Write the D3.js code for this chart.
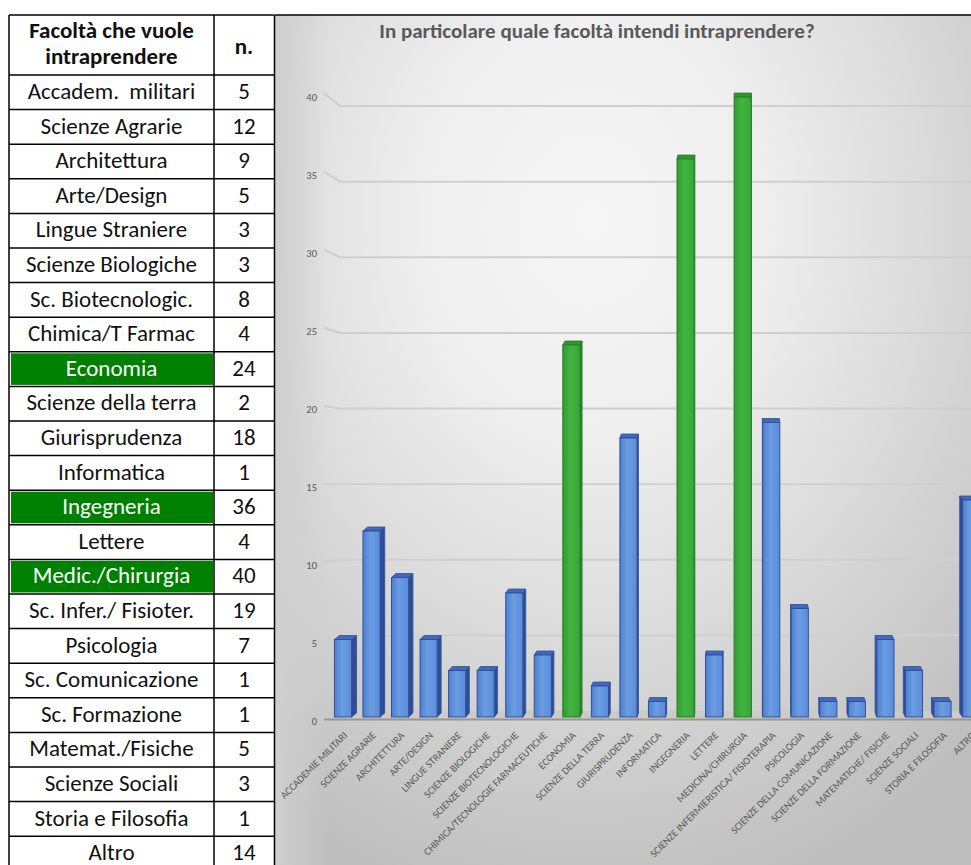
<!DOCTYPE html>
<html>
<head>
<meta charset="utf-8">
<script src="https://cdn.jsdelivr.net/npm/d3@7"></script>
<style>
  html, body { margin: 0; padding: 0; background: #ffffff; }
  svg { display: block; }
  text { font-family: Carlito, Lato, "Noto Sans", sans-serif; white-space: pre; }
</style>
</head>
<body>
<script>
// Survey answers: faculty each student intends to enrol in
const tableNames = ["Accadem.  militari", "Scienze Agrarie", "Architettura", "Arte/Design",
  "Lingue Straniere", "Scienze Biologiche", "Sc. Biotecnologic.", "Chimica/T Farmac",
  "Economia", "Scienze della terra", "Giurisprudenza", "Informatica", "Ingegneria",
  "Lettere", "Medic./Chirurgia", "Sc. Infer./ Fisioter.", "Psicologia",
  "Sc. Comunicazione", "Sc. Formazione", "Matemat./Fisiche", "Scienze Sociali",
  "Storia e Filosofia", "Altro"];
const counts = [5, 12, 9, 5, 3, 3, 8, 4, 24, 2, 18, 1, 36, 4, 40, 19, 7, 1, 1, 5, 3, 1, 14];
const axisCategories = ["ACCADEMIE MILITARI", "SCIENZE AGRARIE", "ARCHITETTURA", "ARTE/DESIGN",
  "LINGUE STRANIERE", "SCIENZE BIOLOGICHE", "SCIENZE BIOTECNOLOGICHE",
  "CHIMICA/TECNOLOGIE FARMACEUTICHE", "ECONOMIA", "SCIENZE DELLA TERRA", "GIURISPRUDENZA",
  "INFORMATICA", "INGEGNERIA", "LETTERE", "MEDICINA/CHIRURGIA",
  "SCIENZE INFERMIERISTICA/ FISIOTERAPIA", "PSICOLOGIA", "SCIENZE DELLA COMUNICAZIONE",
  "SCIENZE DELLA FORMAZIONE", "MATEMATICHE/ FISICHE", "SCIENZE SOCIALI",
  "STORIA E FILOSOFIA", "ALTRO"];
const highlighted = ["ECONOMIA", "INGEGNERIA", "MEDICINA/CHIRURGIA"];
const yTicks = [0, 5, 10, 15, 20, 25, 30, 35, 40];
const tableHeader = ["Facoltà che vuole", "intraprendere", "n."];
const chartTitle = "In particolare quale facoltà intendi intraprendere?";

const W = 971, H = 865;
const svg = d3.select("body").append("svg").attr("width", W).attr("height", H);
const defs = svg.append("defs");

// ---------- table ----------
const tLeft = 9, tDiv = 214, tRight = 274, tTop = 15, headBottom = 75, rowH = 34.6;
const tFont = 23;
const table = svg.append("g");
const rows = table.selectAll("g.row").data(tableNames.map((n, i) => ({ name: n, value: counts[i], hl: highlighted.includes(axisCategories[i]) })))
  .join("g").attr("class", "row")
  .attr("transform", (d, i) => `translate(0,${headBottom + i * rowH})`);
rows.filter(d => d.hl).append("rect")
  .attr("x", tLeft + 2).attr("y", 1.5).attr("width", tDiv - tLeft - 3).attr("height", rowH - 3)
  .attr("fill", "#008000");
rows.append("text").attr("x", (tLeft + tDiv) / 2).attr("y", 24)
  .attr("text-anchor", "middle").attr("font-size", tFont)
  .attr("fill", d => d.hl ? "#ffffff" : "#111111").text(d => d.name);
rows.append("text").attr("x", (tDiv + tRight) / 2).attr("y", 24)
  .attr("text-anchor", "middle").attr("font-size", tFont).attr("fill", "#111111")
  .text(d => d.value);
rows.append("line").attr("x1", tLeft).attr("x2", tRight).attr("y1", rowH).attr("y2", rowH)
  .attr("stroke", "#000").attr("stroke-width", 1.5);

table.append("text").attr("x", (tLeft + tDiv) / 2).attr("y", 38).attr("text-anchor", "middle")
  .attr("font-size", tFont).attr("font-weight", "bold").attr("fill", "#111").text(tableHeader[0]);
table.append("text").attr("x", (tLeft + tDiv) / 2).attr("y", 64).attr("text-anchor", "middle")
  .attr("font-size", tFont).attr("font-weight", "bold").attr("fill", "#111").text(tableHeader[1]);
table.append("text").attr("x", (tDiv + tRight) / 2).attr("y", 54).attr("text-anchor", "middle")
  .attr("font-size", tFont).attr("font-weight", "bold").attr("fill", "#111").text(tableHeader[2]);

const tableBottom = headBottom + tableNames.length * rowH;
table.append("line").attr("x1", tLeft).attr("x2", tRight).attr("y1", tTop).attr("y2", tTop).attr("stroke", "#000").attr("stroke-width", 1.5);
table.append("line").attr("x1", tLeft).attr("x2", tRight).attr("y1", headBottom).attr("y2", headBottom).attr("stroke", "#000").attr("stroke-width", 1.5);
[tLeft, tDiv].forEach(x => table.append("line").attr("x1", x).attr("x2", x).attr("y1", tTop).attr("y2", tableBottom).attr("stroke", "#000").attr("stroke-width", 1.5));

// ---------- chart panel ----------
const cLeft = 274.5;
const bgGrad = defs.append("radialGradient").attr("id", "bg")
  .attr("gradientUnits", "userSpaceOnUse").attr("cx", 590).attr("cy", 220).attr("r", 700)
  .attr("gradientTransform", "translate(590,220) scale(0.8,1) translate(-590,-220)");
[[0, "#f6f6f6"], [0.3, "#efefef"], [0.6, "#dbdbdb"], [0.85, "#c9c9c9"], [1, "#bebebe"]]
  .forEach(([o, c]) => bgGrad.append("stop").attr("offset", o).attr("stop-color", c));
const edgeGrad = defs.append("linearGradient").attr("id", "edge")
  .attr("gradientUnits", "userSpaceOnUse").attr("x1", cLeft).attr("x2", cLeft + 55).attr("y1", 0).attr("y2", 0);
edgeGrad.append("stop").attr("offset", 0).attr("stop-color", "#cfcfcf").attr("stop-opacity", 1);
edgeGrad.append("stop").attr("offset", 1).attr("stop-color", "#cfcfcf").attr("stop-opacity", 0);

svg.append("rect").attr("x", cLeft).attr("y", tTop).attr("width", W - cLeft).attr("height", H - tTop).attr("fill", "url(#bg)");
svg.append("rect").attr("x", cLeft).attr("y", tTop).attr("width", 55).attr("height", H - tTop).attr("fill", "url(#edge)");
svg.append("line").attr("x1", cLeft).attr("x2", W).attr("y1", tTop).attr("y2", tTop).attr("stroke", "#000").attr("stroke-width", 1.5);
svg.append("line").attr("x1", cLeft).attr("x2", cLeft).attr("y1", tTop).attr("y2", H).attr("stroke", "#000").attr("stroke-width", 1.5);

svg.append("text").attr("x", 597).attr("y", 38).attr("text-anchor", "middle")
  .attr("font-size", 21).attr("font-weight", "bold").attr("fill", "#595959").text(chartTitle);

// scales: front plane of the bars, back wall, and the axis labels
const x = d3.scaleBand().domain(axisCategories).range([328.7, 328.7 + 23 * 28.55])
  .paddingInner(0.4).paddingOuter(0.2);
const yBar = d3.scaleLinear().domain([0, 40]).range([717, 97]);
const yWall = d3.scaleLinear().domain([0, 40]).range([711, 106]);
const yEdge = d3.scaleLinear().domain([0, 40]).range([719, 93]);
const yLabel = d3.scaleLinear().domain([0, 40]).range([721, 97]);
const wallLeft = 340, edgeLeft = 324;

// floor
svg.append("path")
  .attr("d", `M${edgeLeft},${yEdge(0)}L${wallLeft},${yWall(0)}H${W}V${yEdge(0)}Z`)
  .attr("fill", "#cdcbc8");
svg.append("line").attr("x1", edgeLeft).attr("x2", W).attr("y1", yEdge(0) + 0.5).attr("y2", yEdge(0) + 0.5)
  .attr("stroke", "#9b958e").attr("stroke-width", 2.2);

// gridlines on the side and back wall
svg.append("g").selectAll("path").data(yTicks.filter(t => t > 0)).join("path")
  .attr("d", t => `M${edgeLeft},${yEdge(t)}L${wallLeft},${yWall(t)}H${W}`)
  .attr("fill", "none").attr("stroke", "#cfcfcf").attr("stroke-width", 2);

// y axis labels
const yAxis = svg.append("g").attr("transform", "translate(317,0)")
  .call(d3.axisLeft(yLabel).tickValues(yTicks).tickSize(0).tickPadding(0));
yAxis.select(".domain").remove();
yAxis.selectAll("text").attr("font-size", 10.5).attr("fill", "#595959")
  .style("font-family", "Carlito, Lato, 'Noto Sans', sans-serif");

// bar gradients
function frontGrad(id, c0, c1, c2) {
  const g = defs.append("linearGradient").attr("id", id).attr("x1", 0).attr("x2", 1).attr("y1", 0).attr("y2", 0);
  g.append("stop").attr("offset", 0).attr("stop-color", c0);
  g.append("stop").attr("offset", 0.45).attr("stop-color", c1);
  g.append("stop").attr("offset", 1).attr("stop-color", c2);
}
frontGrad("blueFront", "#4f80d0", "#6a9de2", "#5b8cda");
frontGrad("greenFront", "#2f9e2f", "#41b441", "#36a836");
const palette = {
  blue: { front: "url(#blueFront)", side: "#2f4d96", top: "#4169b9", stroke: "#30509a" },
  green: { front: "url(#greenFront)", side: "#2a8a2a", top: "#2f962f", stroke: "#2a7e2a" }
};

const bars = svg.append("g").selectAll("g.bar")
  .data(axisCategories.map((c, i) => ({ cat: c, value: counts[i] })))
  .join("g").attr("class", "bar");
bars.each(function (d) {
  const g = d3.select(this);
  const p = highlighted.includes(d.cat) ? palette.green : palette.blue;
  const x0 = x(d.cat), x1 = x0 + x.bandwidth(), cx = (x0 + x1) / 2;
  const yt = yBar(d.value), yb = yBar(0);
  const dx = (745 - cx) * 0.0125, dy = -4;
  const sx = dx > 0 ? x1 : x0;
  g.append("path")
    .attr("d", `M${sx},${yt}L${sx + dx},${yt + dy}L${sx + dx},${yb + dy}L${sx},${yb}Z`)
    .attr("fill", p.side).attr("stroke", p.stroke).attr("stroke-width", 0.8);
  g.append("path")
    .attr("d", `M${x0},${yt}L${x1},${yt}L${x1 + dx},${yt + dy}L${x0 + dx},${yt + dy}Z`)
    .attr("fill", p.top).attr("stroke", p.stroke).attr("stroke-width", 0.8);
  g.append("rect").attr("x", x0).attr("y", yt).attr("width", x1 - x0).attr("height", yb - yt)
    .attr("fill", p.front).attr("stroke", p.stroke).attr("stroke-width", 1);
});

// category labels, rotated
svg.append("g").selectAll("text").data(axisCategories).join("text")
  .attr("transform", d => `translate(${x(d) + x.bandwidth() / 2 + 5},${736}) rotate(-45)`)
  .attr("text-anchor", "end").attr("font-size", 10.3).attr("fill", "#595959")
  .text(d => d);
</script>
</body>
</html>
